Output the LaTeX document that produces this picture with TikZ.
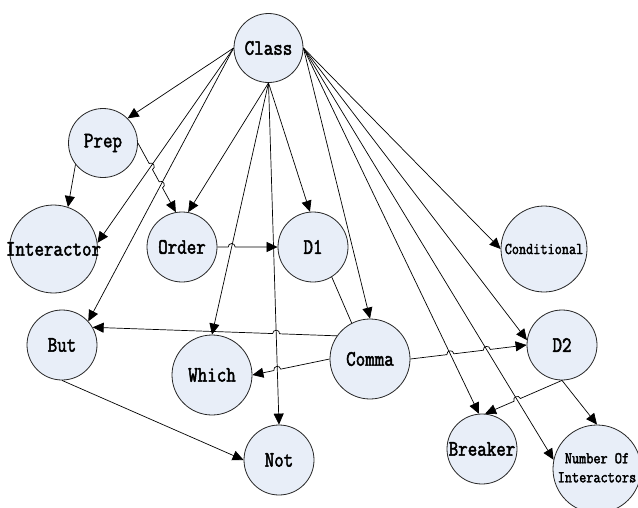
\documentclass[tikz,border=0pt]{standalone}
\usepackage{fontspec}
\newfontfamily\lblfont[FakeStretch=0.84, FakeBold=2.2]{Latin Modern Mono}
\usetikzlibrary{arrows.meta,calc}
\definecolor{nodefill}{RGB}{232,238,248}
\newcommand\mkhop[6]{%
  \coordinate (#1) at (intersection of #2--#3 and #4--#5);
  \coordinate (#1a) at ($(#1)!3.5pt!(#2)$);
  \coordinate (#1b) at ($(#1)!3.5pt!(#3)$);
  \coordinate (#1c) at ($(#1a)!4.6pt!#6:(#1b)$);
  \coordinate (#1d) at ($(#1b)+(#1c)-(#1a)$);
}
\tikzset{
  st/.style={circle, draw=black!85, line width=0.8pt, fill=nodefill, inner sep=0pt,
    font=\lblfont\fontsize{22}{24}\selectfont},
  small/.style={font=\lblfont\fontsize{16.5}{19}\selectfont},
  conn/.style={line width=0.7pt, -{Triangle[length=11pt,width=10pt]}},
  plain/.style={line width=0.7pt},
}
\begin{document}
\begin{tikzpicture}[x=1pt,y=-1pt]
\useasboundingbox (0,0) rectangle (638,507);
% nodes
\node[st, minimum size=69pt] (Class) at (268.5,48) {Class};
\node[st, minimum size=69pt] (Prep) at (103,143) {Prep};
\node[st, minimum size=88pt] (Interactor) at (53.5,249) {\makebox[0pt]{Interactor}};
\node[st, minimum size=70pt] (Order) at (182,247) {Order};
\node[st, minimum size=70pt] (D1) at (313,247) {D1};
\node[st, small, minimum size=86pt] (Conditional) at (544,249) {\makebox[0pt]{Conditional}};
\node[st, minimum size=70pt] (But) at (62,345) {But};
\node[st, minimum size=80pt] (Which) at (212,375) {Which};
\node[st, minimum size=70pt] (Not) at (279,460) {Not};
\node[st, minimum size=80pt] (Comma) at (370,359) {Comma};
\node[st, minimum size=70pt] (D2) at (562,345) {D2};
\node[st, minimum size=70pt] (Breaker) at (482,449) {\makebox[0pt]{Breaker}};
\node[st, small, minimum size=88pt] (Number) at (597,469)
  {\makebox[0pt]{\begin{tabular}{@{}c@{}}Number Of\\Interactors\end{tabular}}};
% edges from Class
\draw[conn] (Class.west) -- (Prep.north east);
\draw[conn] (Class.west) -- (Interactor.8);
\draw[conn] (Class.west) -- (But.42);
\draw[conn] (Class.south) -- (Order.80);
\draw[conn] (Class.south) -- (Which.north);
\draw[conn] (Class.south) -- (Not.north);
\draw[conn] (Class.south) -- (D1.95);
\draw[conn] (Class.east) -- (Comma.north);
\draw[conn] (Class.east) -- (Conditional.west);
\draw[conn] (Class.east) -- (D2.172);
\draw[conn] (Class.east) -- (Breaker.95);
\draw[conn] (Class.east) -- (Number.168);
% other edges
\draw[conn] (Prep.218) -- (Interactor.71);
\mkhop{ha}{Prep.east}{Order.100}{Class.west}{Interactor.8}{90}
\mkhop{hb}{Prep.east}{Order.100}{Class.west}{But.42}{90}
\draw[conn] (Prep.east) -- (haa) .. controls (hac) and (had) .. (hab)
  -- (hba) .. controls (hbc) and (hbd) .. (hbb) -- (Order.100);
\mkhop{hc}{Order.east}{D1.west}{Class.south}{Which.north}{90}
\draw[conn] (Order.east) -- (hca) .. controls (hcc) and (hcd) .. (hcb) -- (D1.west);
\draw[plain] (D1.-58) -- (Comma.117);
\mkhop{hd}{Comma.145}{But.30}{Class.south}{Not.north}{-90}
\draw[conn] (Comma.145) -- (hda) .. controls (hdc) and (hdd) .. (hdb) -- (But.30);
\mkhop{he}{Comma.west}{Which.east}{Class.south}{Not.north}{-90}
\draw[conn] (Comma.west) -- (hea) .. controls (hec) and (hed) .. (heb) -- (Which.east);
\mkhop{hf}{Comma.east}{D2.west}{Class.east}{Breaker.95}{90}
\mkhop{hg}{Comma.east}{D2.west}{Class.east}{Number.168}{90}
\draw[conn] (Comma.east) -- (hfa) .. controls (hfc) and (hfd) .. (hfb)
  -- (hga) .. controls (hgc) and (hgd) .. (hgb) -- (D2.west);
\mkhop{hh}{D2.south}{Breaker.85}{Class.east}{Number.168}{-90}
\draw[conn] (D2.south) -- (hha) .. controls (hhc) and (hhd) .. (hhb) -- (Breaker.85);
\draw[conn] (D2.south) -- (Number.north);
\draw[conn] (But.south) -- (Not.west);
\end{tikzpicture}
\end{document}
